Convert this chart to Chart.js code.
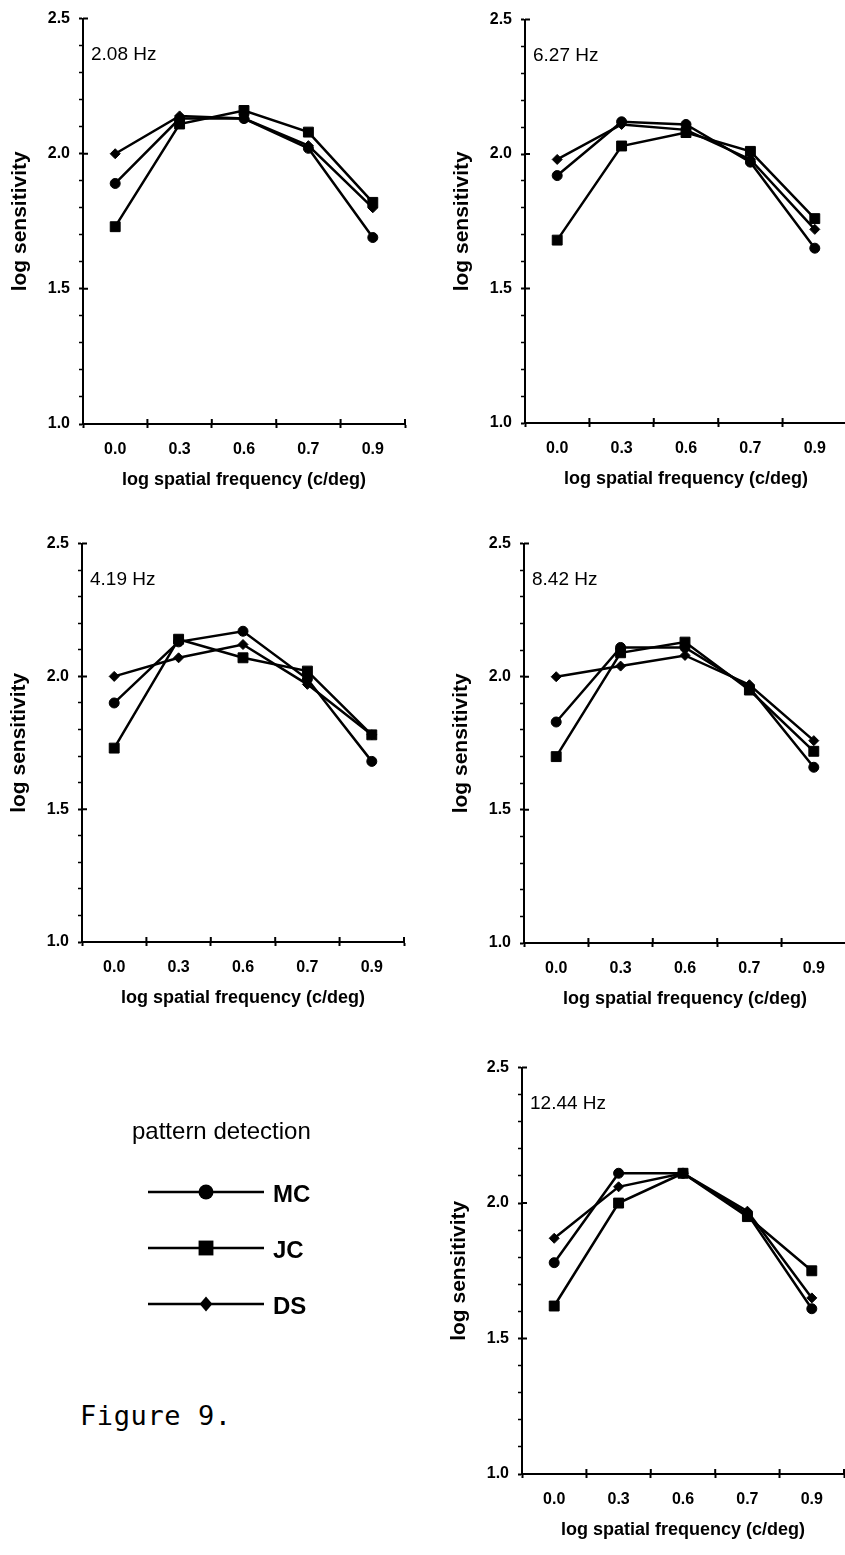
<!DOCTYPE html>
<html>
<head>
<meta charset="utf-8">
<script src="https://cdn.jsdelivr.net/npm/chart.js"></script>
<style>
  html, body { margin: 0; padding: 0; background: #fff; overflow: hidden; }
  body { width: 845px; height: 1555px; position: relative; }
  canvas { position: absolute; }
  #figcap { position: absolute; left: 80px; top: 1402px; font-family: "DejaVu Sans Mono", "Liberation Mono", monospace; font-size: 27px; line-height: 28px; color: #000; white-space: pre; letter-spacing: 0.6px; }
</style>
</head>
<body>
<div id="figcap">Figure 9.</div>
<script>
// Figure 9 - pattern detection, log sensitivity vs log spatial frequency
const spatialFreq = ['0.0', '0.3', '0.6', '0.7', '0.9'];
const yMin = 1.0, yMax = 2.5, yStep = 0.1, yLabelStep = 0.5;
const observers = ['MC', 'JC', 'DS'];
const legendTitle = 'pattern detection';

// 2.08 Hz
const mc208 = [1.89, 2.13, 2.13, 2.02, 1.69];
const jc208 = [1.73, 2.11, 2.16, 2.08, 1.82];
const ds208 = [2.00, 2.14, 2.13, 2.03, 1.80];
// 6.27 Hz
const mc627 = [1.92, 2.12, 2.11, 1.97, 1.65];
const jc627 = [1.68, 2.03, 2.08, 2.01, 1.76];
const ds627 = [1.98, 2.11, 2.09, 1.98, 1.72];
// 4.19 Hz
const mc419 = [1.90, 2.13, 2.17, 1.99, 1.68];
const jc419 = [1.73, 2.14, 2.07, 2.02, 1.78];
const ds419 = [2.00, 2.07, 2.12, 1.97, 1.78];
// 8.42 Hz
const mc842 = [1.83, 2.11, 2.11, 1.96, 1.66];
const jc842 = [1.70, 2.09, 2.13, 1.95, 1.72];
const ds842 = [2.00, 2.04, 2.08, 1.97, 1.76];
// 12.44 Hz
const mc1244 = [1.78, 2.11, 2.11, 1.96, 1.61];
const jc1244 = [1.62, 2.00, 2.11, 1.95, 1.75];
const ds1244 = [1.87, 2.06, 2.11, 1.97, 1.65];

const FONT = '"Liberation Sans", Arial, Helvetica, sans-serif';
Chart.defaults.color = '#000';
Chart.defaults.font.family = FONT;

const markers = {
  MC: { pointStyle: 'circle', r: 5 },
  JC: { pointStyle: 'rect', r: 7 },
  DS: { pointStyle: 'rectRot', r: 5 }
};

const isMajor = v => Math.abs(v / yLabelStep - Math.round(v / yLabelStep)) < 1e-6;

// frequency label in the top-left corner of the plot
const panelLabel = {
  id: 'panelLabel',
  afterDraw(chart, args, opts) {
    const { ctx, chartArea } = chart;
    ctx.save();
    ctx.font = '19px ' + FONT;
    ctx.fillStyle = '#000';
    ctx.textBaseline = 'middle';
    ctx.fillText(opts.text, chartArea.left + 8, chartArea.top + 36);
    ctx.restore();
  }
};

// inward half of the crossing tick marks
const crossTicks = {
  id: 'crossTicks',
  afterDraw(chart) {
    const { ctx, chartArea, scales } = chart;
    ctx.save();
    ctx.strokeStyle = '#000';
    ctx.lineWidth = 2;
    ctx.beginPath();
    scales.y.ticks.forEach(t => {
      if (!isMajor(t.value)) return;
      const y = scales.y.getPixelForValue(t.value);
      ctx.moveTo(chartArea.left, y);
      ctx.lineTo(chartArea.left + 5, y);
    });
    for (let i = 0; i <= spatialFreq.length; i++) {
      const x = scales.x.getPixelForValue(i - 0.5);
      ctx.moveTo(x, chartArea.bottom);
      ctx.lineTo(x, chartArea.bottom - 5);
    }
    ctx.stroke();
    ctx.restore();
  }
};

function makeDatasets(series) {
  return observers.map((name, i) => ({
    label: name,
    data: series[i],
    borderColor: '#000',
    backgroundColor: '#000',
    borderWidth: 2.5,
    pointStyle: markers[name].pointStyle,
    pointRadius: markers[name].r,
    pointBorderWidth: 1,
    pointBackgroundColor: '#000',
    pointBorderColor: '#000',
    tension: 0,
    fill: false
  }));
}

function makePanel(label, series, axisX, top, bottom, right) {
  const c = document.createElement('canvas');
  const L = axisX - 83, T = top - 17;
  const W = right + 15 - L, H = bottom + 71 - T;
  c.width = W; c.height = H;
  c.style.left = L + 'px'; c.style.top = T + 'px';
  c.style.width = W + 'px'; c.style.height = H + 'px';
  document.body.appendChild(c);

  new Chart(c, {
    type: 'line',
    data: { labels: spatialFreq, datasets: makeDatasets(series) },
    options: {
      responsive: false,
      animation: false,
      devicePixelRatio: 1,
      layout: { padding: { top: 17, right: 15, left: 0, bottom: 0 } },
      plugins: {
        legend: { display: false },
        tooltip: { enabled: false },
        panelLabel: { text: label }
      },
      scales: {
        x: {
          type: 'category',
          offset: true,
          grid: { display: true, offset: true, drawOnChartArea: false, tickLength: 4, tickWidth: 2, tickColor: '#000' },
          border: { color: '#000', width: 2 },
          ticks: { font: { size: 16, weight: 'bold' }, padding: 12, maxRotation: 0, autoSkip: false },
          title: { display: true, text: 'log spatial frequency (c/deg)', font: { size: 18, weight: 'bold' }, padding: { top: 0, bottom: 4 } },
          afterFit(s) { s.height = 71; }
        },
        y: {
          min: yMin,
          max: yMax,
          grid: {
            display: true, drawOnChartArea: false, tickLength: 4, tickColor: '#000',
            tickWidth: ctx => isMajor(ctx.tick.value) ? 2 : 1.5
          },
          border: { color: '#000', width: 2 },
          ticks: {
            stepSize: yStep, autoSkip: false, padding: 9,
            font: { size: 16, weight: 'bold' },
            callback: v => isMajor(v) ? v.toFixed(1) : ''
          },
          title: { display: true, text: 'log sensitivity', font: { size: 21, weight: 'bold' }, padding: { top: 8, bottom: 0 } },
          afterFit(s) { s.width = 83; }
        }
      }
    },
    plugins: [panelLabel, crossTicks]
  });
}

makePanel('2.08 Hz', [mc208, jc208, ds208], 83, 17, 424, 405);
makePanel('6.27 Hz', [mc627, jc627, ds627], 525, 18, 423, 847);
makePanel('4.19 Hz', [mc419, jc419, ds419], 82, 542, 942, 404);
makePanel('8.42 Hz', [mc842, jc842, ds842], 524, 542, 943, 846);
makePanel('12.44 Hz', [mc1244, jc1244, ds1244], 522, 1066, 1474, 844);

// legend block: line with marker through the middle
const legendBlock = {
  id: 'legendBlock',
  afterDraw(chart) {
    const ctx = chart.ctx;
    ctx.save();
    ctx.fillStyle = '#000';
    ctx.strokeStyle = '#000';
    ctx.font = '24px ' + FONT;
    ctx.textBaseline = 'middle';
    ctx.fillText(legendTitle, 32, 42);
    chart.data.datasets.forEach((ds, i) => {
      const y = 102 + i * 56;
      ctx.lineWidth = 2.5;
      ctx.beginPath();
      ctx.moveTo(48, y);
      ctx.lineTo(164, y);
      ctx.stroke();
      const r = ds.pointRadius * 1.5, x = 106;
      ctx.beginPath();
      if (ds.pointStyle === 'circle') {
        ctx.arc(x, y, r, 0, Math.PI * 2);
      } else if (ds.pointStyle === 'rect') {
        const h = r * Math.SQRT1_2;
        ctx.rect(x - h, y - h, 2 * h, 2 * h);
      } else {
        ctx.moveTo(x, y - r); ctx.lineTo(x + r * 0.85, y);
        ctx.lineTo(x, y + r); ctx.lineTo(x - r * 0.85, y);
        ctx.closePath();
      }
      ctx.fill();
      ctx.font = 'bold 24px ' + FONT;
      ctx.fillText(ds.label, 173, y + 3);
    });
    ctx.restore();
  }
};

const lc = document.createElement('canvas');
lc.width = 300; lc.height = 250;
lc.style.left = '100px'; lc.style.top = '1090px';
lc.style.width = '300px'; lc.style.height = '250px';
document.body.appendChild(lc);
new Chart(lc, {
  type: 'line',
  data: { labels: [], datasets: makeDatasets([[], [], []]) },
  options: {
    responsive: false,
    animation: false,
    devicePixelRatio: 1,
    plugins: { legend: { display: false }, tooltip: { enabled: false } },
    scales: { x: { display: false }, y: { display: false } }
  },
  plugins: [legendBlock]
});
</script>
</body>
</html>
